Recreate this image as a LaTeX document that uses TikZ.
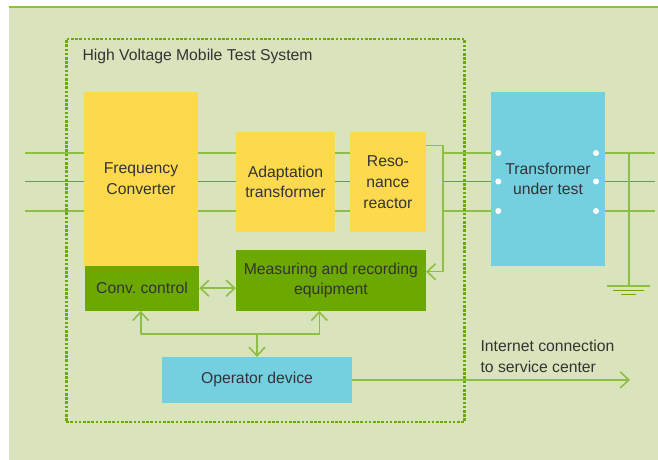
\documentclass[tikz,border=0pt]{standalone}
\usepackage{fontspec}
\setmainfont{Liberation Sans}
\usetikzlibrary{arrows.meta}
\definecolor{bggreen}{HTML}{D9E4BD}
\definecolor{linegreen}{HTML}{8DBF45}
\definecolor{darkgreen}{HTML}{6BA800}
\definecolor{boxyellow}{HTML}{FDD94E}
\definecolor{boxcyan}{HTML}{74D0E0}
\definecolor{txtgray}{HTML}{333333}
\begin{document}
\begin{tikzpicture}[x=1bp,y=-1bp,line join=round,
    font=\fontsize{15.8}{21}\selectfont,text=txtgray,
    >={Straight Barb[length=8.5bp,width=16bp]},
    blk/.style={inner sep=0pt,align=center},
    yellowbox/.style={blk,fill=boxyellow},
    greenbox/.style={blk,fill=darkgreen},
    cyanbox/.style={blk,fill=boxcyan},
    wire/.style={linegreen,line width=1.6bp},
    phase/.style={line width=1.8bp},
    sysbox/.style={draw=darkgreen,line width=2.6bp,dash pattern=on 2.6bp off 1.6bp,inner sep=0pt}]
	\useasboundingbox (0,0) rectangle (658,460);
	\fill[bggreen] (9,7) rectangle (658,460);
	\draw[linegreen,line width=1.5bp] (9,7)--(658,7);
	% blocks
	\node[yellowbox,minimum width=114bp,minimum height=173.7bp] (freq) at (141,178.9) {Frequency\\Converter};
	\node[greenbox,minimum width=114bp,minimum height=45bp] (convctl) at (142,288.2) {Conv.\ control};
	\node[yellowbox,minimum width=99bp,minimum height=99.7bp] (adapt) at (285.5,181.9) {Adaptation\\transformer};
	\node[yellowbox,minimum width=75.7bp,minimum height=99.7bp] (reso) at (387.9,181.9) {Reso-\\nance\\reactor};
	\node[greenbox,minimum width=189.7bp,minimum height=60.7bp] (meas) at (330.9,280.4) {Measuring and recording\\equipment};
	\node[cyanbox,minimum width=114bp,minimum height=173.7bp] (tut) at (548,178.9) {Transformer\\under test};
	\node[cyanbox,minimum width=190bp,minimum height=45.7bp] (oper) at (257,379.9) {Operator device};
	% three phases
	\coordinate (bus) at (442.7,145.7);
	\coordinate (busend) at (442.7,271.7);
	\foreach \y/\c in {153/linegreen,181.5/darkgreen,211/linegreen}{
		\coordinate (in) at (25.3,\y);
		\draw[phase,\c] (in)--(in -| freq.west) (in -| freq.east)--(in -| adapt.west)
			(in -| adapt.east)--(in -| reso.west);
		\draw[phase,\c] (bus |- in)--(in -| tut.west) (in -| tut.east)--(655,\y);
		\fill[white] (498.3,\y) circle (3bp) (596,\y) circle (3bp);
	}
	\draw[wire,->] (reso.east |- bus)--(bus)--(busend)--(busend -| meas.east);
	% ground
	\coordinate (gnd) at (629,285.7);
	\draw[wire,line width=1.8bp] (629,153)--(gnd);
	\draw[wire,line width=1.8bp] ([xshift=-22bp]gnd)--([xshift=21bp]gnd);
	\draw[darkgreen,line width=1.3bp] (613,290.7)--(644,290.7) (621,294.3)--(636,294.3);
	% control links
	\draw[wire,<->] (convctl.east)--(convctl.east -| meas.west);
	\coordinate (split) at (257,334);
	\draw[wire,->] (split)--(oper.north);
	\draw[wire,->] (split)-|([xshift=-1.3bp]convctl.south);
	\draw[wire,->] (split)-|([xshift=-11.6bp]meas.south);
	\coordinate (net) at (630,379.9);
	\draw[wire,->] (oper.east)--(net);
	\node[anchor=west,align=left] (nettxt) at (477,356) {Internet connection\\to service center};
	% system frame
	\node[sysbox,minimum width=398bp,minimum height=383bp] (system) at (265.3,230.5) {};
	\node[anchor=west] (title) at (79,56) {High Voltage Mobile Test System};
\end{tikzpicture}
\end{document}
